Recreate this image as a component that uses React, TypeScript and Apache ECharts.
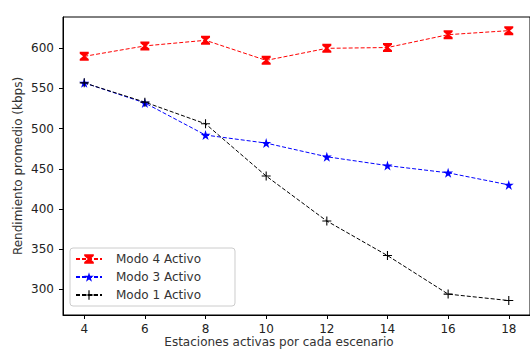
import React, { useEffect, useRef } from "react";
import * as echarts from "echarts";

const xValues = [4, 6, 8, 10, 12, 14, 16, 18];
const modo4 = [590, 603, 610, 585, 600, 601, 617, 622];
const modo3 = [557, 532, 492, 482, 465, 454, 445, 430];
const modo1 = [557, 533, 506, 441, 385, 342, 294, 286];
const xTicks = [4, 6, 8, 10, 12, 14, 16, 18];
const yTicks = [300, 350, 400, 450, 500, 550, 600];

const hourglass = "path://M0,0 H10 V2 L6.3,5 L10,8 V10 H0 V8 L3.7,5 L0,2 Z";
const star =
  "path://M5,0 L6.18,3.6 L10,3.6 L6.9,5.85 L8.1,9.5 L5,7.25 L1.9,9.5 L3.1,5.85 L0,3.6 L3.82,3.6 Z";
const plus = "path://M4.4,0 H5.6 V4.4 H10 V5.6 H5.6 V10 H4.4 V5.6 H0 V4.4 H4.4 Z";

const FONT = "DejaVu Sans";

export default function App() {
  const ref = useRef<HTMLDivElement>(null);
  useEffect(() => {
    if (!ref.current) return;
    const chart = echarts.init(ref.current, null, { renderer: "svg" });
    const pair = (arr: number[]) => xValues.map((x, i) => [x, arr[i]]);
    const mk = (name: string, data: number[], color: string, symbol: string, size: number) => ({
      name,
      type: "line",
      data: pair(data),
      symbol,
      symbolSize: size,
      itemStyle: { color },
      lineStyle: { color, width: 1, type: [4, 2] },
    });
    chart.setOption({
      animation: false,
      textStyle: { fontFamily: FONT },
      grid: { left: 63, top: 17, width: 473, height: 298, show: true, borderColor: "#000", borderWidth: 1 },
      xAxis: {
        type: "value",
        min: 3.3,
        max: 18.7,
        axisLine: { show: true, lineStyle: { color: "#000", width: 1 } },
        axisTick: { show: true, length: 4, lineStyle: { color: "#000" }, customValues: xTicks },
        axisLabel: { color: "#222", fontSize: 12, fontFamily: FONT, margin: 8, customValues: xTicks },
        splitLine: { show: false },
      },
      yAxis: {
        type: "value",
        min: 268,
        max: 639,
        axisLine: { show: true, lineStyle: { color: "#000", width: 1 } },
        axisTick: { show: true, length: 4, lineStyle: { color: "#000" }, customValues: yTicks },
        axisLabel: { color: "#222", fontSize: 12, fontFamily: FONT, margin: 9, customValues: yTicks },
        splitLine: { show: false },
      },
      legend: {
        orient: "vertical",
        left: 70,
        top: 248,
        itemWidth: 26,
        itemHeight: 12,
        itemGap: 6,
        padding: [5, 34, 5, 5],
        borderColor: "#ccc",
        borderWidth: 1,
        borderRadius: 3,
        backgroundColor: "rgba(255,255,255,0.8)",
        textStyle: { fontFamily: FONT, fontSize: 12, color: "#333", padding: [0, 0, 0, 9] },
        data: ["Modo 4 Activo", "Modo 3 Activo", "Modo 1 Activo"],
      },
      graphic: [
        {
          type: "text",
          x: 18,
          y: 166,
          rotation: Math.PI / 2,
          style: {
            text: "Rendimiento promedio (kbps)",
            fontFamily: FONT,
            fontSize: 12,
            fill: "#333",
            align: "center",
            verticalAlign: "middle",
          },
        },
        {
          type: "text",
          x: 279,
          y: 342,
          style: {
            text: "Estaciones activas por cada escenario",
            fontFamily: FONT,
            fontSize: 12,
            fill: "#333",
            align: "center",
            verticalAlign: "middle",
          },
        },
      ],
      series: [
        mk("Modo 4 Activo", modo4, "#ff0000", hourglass, 9),
        mk("Modo 3 Activo", modo3, "#0000ff", star, 10),
        mk("Modo 1 Activo", modo1, "#000000", plus, 9),
      ],
    });
    return () => chart.dispose();
  }, []);
  return (
    <div
      ref={ref}
      style={{ position: "fixed", left: 0, top: 0, width: 530, height: 349, background: "#fff" }}
    />
  );
}
